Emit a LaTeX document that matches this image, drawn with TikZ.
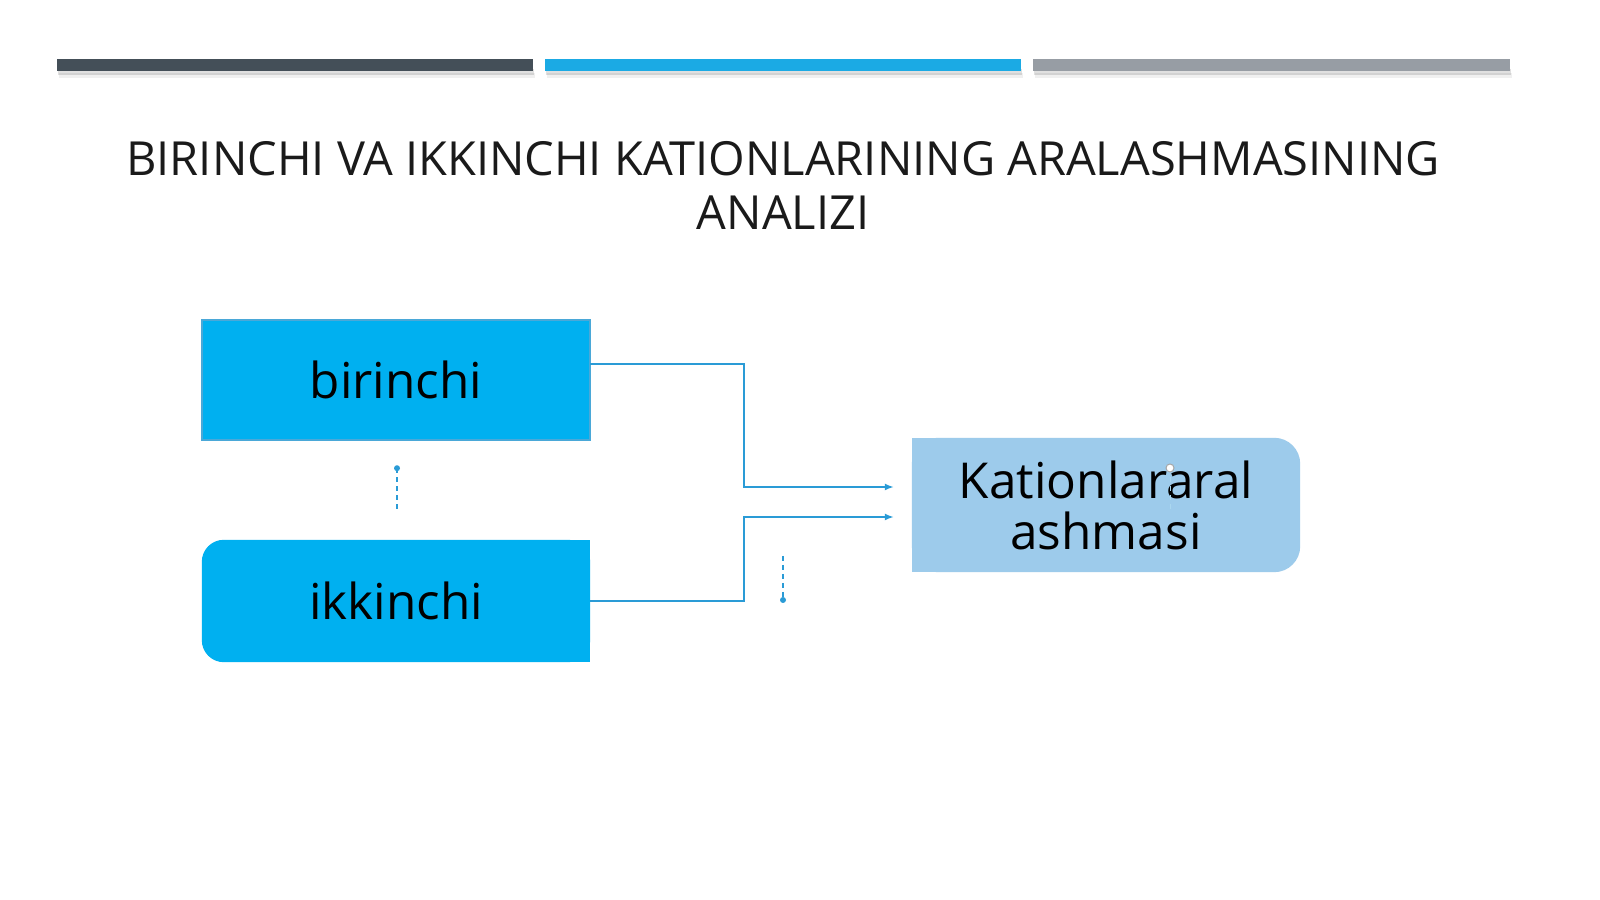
\documentclass[tikz,border=0pt]{standalone}
\usepackage{fontspec}
\setmainfont{Open Sans}
\usetikzlibrary{calc, arrows.meta, positioning, backgrounds}

\definecolor{bardark}{HTML}{444F58}
\definecolor{barblue}{HTML}{1BAAE4}
\definecolor{bargray}{HTML}{979DA4}
\definecolor{boxblue}{HTML}{00B0F0}
\definecolor{boxedge}{HTML}{4AA8D8}
\definecolor{katblue}{HTML}{9DCBEB}
\definecolor{connblue}{HTML}{2A9BD6}
\definecolor{titleblack}{HTML}{1A1A1A}

\tikzset{
    barshadow/.style={fill=black, opacity=0.12},
    boxtext/.style={font=\fontsize{49.5}{51}\selectfont, text=black, align=center, inner sep=0pt},
    conn/.style={->, draw=connblue, line width=1.6pt},
    dashlink/.style={draw=connblue, line width=1.2pt, dash pattern=on 5pt off 4pt},
}

\begin{document}
\begin{tikzpicture}[>={Latex[length=9pt,width=7pt]}, x=1pt, y=1pt]
    \useasboundingbox (0,0) rectangle (1600,899);

    % bars on top
    \foreach \xa/\xb/\col in {57/533/bardark, 545/1021/barblue, 1033/1510/bargray} {
        \fill[barshadow] (\xa+1,824) rectangle (\xb+1,830);
        \fill[barshadow, opacity=0.06] (\xa+2,821) rectangle (\xb+2,826);
        \fill[\col] (\xa,828) rectangle (\xb,840);
    }

    \node[font=\fontsize{47}{54}\selectfont, text=titleblack, align=center] at (783,714) (title)
        {BIRINCHI VA IKKINCHI KATIONLARINING ARALASHMASINING\\ANALIZI};

    \node[boxtext, minimum width=388, minimum height=120] at (396,519) (bir) {birinchi};
    \node[boxtext, minimum width=388, minimum height=122] at (396,298) (ikk) {ikkinchi};
    \node[boxtext, minimum width=388, minimum height=134] at (1106,394) (kat) {Kationlararal\\ashmasi};

    \begin{scope}[on background layer]
        \fill[white] (0,0) rectangle (1600,899);
        \fill[boxblue, draw=boxedge, line width=1.5pt] (bir.south west) rectangle (bir.north east);
        \fill[boxblue, rounded corners=22] (ikk.south west) rectangle (ikk.north east);
        \fill[boxblue] (ikk.south) rectangle (ikk.north east);
        \fill[katblue, rounded corners=26] (kat.south west) rectangle (kat.north east);
        \fill[katblue] (kat.south west) rectangle (kat.north);
    \end{scope}

    \coordinate (in1) at ($(kat.west)+(-18,18)$);
    \coordinate (in2) at ($(kat.west)+(-18,-12)$);
    \draw[conn] ($(bir.east)+(0,16)$) -- ++(154,0) |- (in1);
    \draw[conn] (ikk.east) -- ++(154,0) |- (in2);

    % dashed handles
    \coordinate (d1top) at ($(bir.south)+(1,-28)$);
    \coordinate (d1bot) at ($(bir.south)+(1,-72)$);
    \draw[dashlink] (d1top) -- (d1bot);
    \fill[connblue] (d1top) circle (3);

    \coordinate (d2top) at (783,343);
    \coordinate (d2bot) at (783,299);
    \draw[dashlink] (d2top) -- (d2bot);
    \fill[connblue] (d2bot) circle (3);

    \coordinate (d3top) at (1170,431);
    \coordinate (d3bot) at (1170,389);
    \draw[dashlink, draw=connblue!40, line width=0.8pt] (d3top) -- (d3bot);
    \draw[fill=white, draw=gray!70, line width=1pt] (d3top) circle (4);

\end{tikzpicture}
\end{document}
